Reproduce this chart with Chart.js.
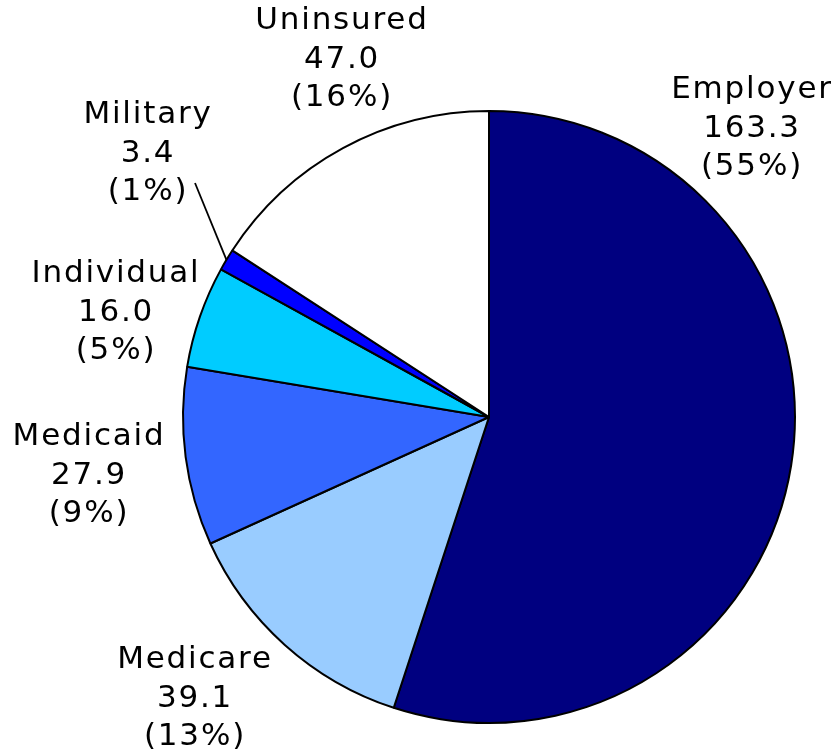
<!DOCTYPE html>
<html>
<head>
<meta charset="utf-8">
<script src="https://cdn.jsdelivr.net/npm/chart.js@4/dist/chart.umd.min.js"></script>
<style>
  html, body { margin: 0; padding: 0; background: #fff; }
  #wrap { width: 837px; height: 753px; }
</style>
</head>
<body>
<div id="wrap"><canvas id="pie" width="837" height="753"></canvas></div>
<script>
// coverage, millions of people
var categories = ["Employer", "Medicare", "Medicaid", "Individual", "Military", "Uninsured"];
var values = [163.3, 39.1, 27.9, 16.0, 3.4, 47.0];
var sliceColors = ["#000080", "#99CCFF", "#3366FF", "#00CCFF", "#0000FF", "#FFFFFF"];

// where each label block sits (centre x, first line y)
var labelSpots = [
    [752, 90],
    [195, 660],
    [89, 437],
    [116, 274],
    [148, 115],
    [342, 21]
];

var total = 0;
for (let i = 0; i < values.length; i++) {
    total += values[i];
}

var labelPlugin = {
    id: "sliceLabels",
    afterDatasetsDraw: function (chart) {
        var ctx = chart.ctx;
        var arcs = chart.getDatasetMeta(0).data;
        ctx.save();
        ctx.font = "31px 'DejaVu Sans'";
        ctx.letterSpacing = "1.8px";
        ctx.fillStyle = "#000";
        ctx.textAlign = "center";
        ctx.textBaseline = "middle";
        for (let i = 0; i < categories.length; i++) {
            let x = labelSpots[i][0];
            let y = labelSpots[i][1];
            let pct = Math.round(values[i] * 100 / total);
            ctx.fillText(categories[i], x, y);
            ctx.fillText(values[i].toFixed(1), x, y + 39);
            ctx.fillText("(" + pct + "%)", x, y + 77);
        }
        // leader line for the thin Military slice
        let m = categories.indexOf("Military");
        let arc = arcs[m];
        let mid = (arc.startAngle + arc.endAngle) / 2;
        let ex = arc.x + Math.cos(mid) * arc.outerRadius;
        let ey = arc.y + Math.sin(mid) * arc.outerRadius;
        ctx.letterSpacing = "0px";
        ctx.strokeStyle = "#000";
        ctx.lineWidth = 1.8;
        ctx.beginPath();
        ctx.moveTo(labelSpots[m][0] + 47, labelSpots[m][1] + 68);
        ctx.lineTo(ex, ey);
        ctx.stroke();
        ctx.restore();
    }
};

var chart = new Chart(document.getElementById("pie").getContext("2d"), {
    type: "pie",
    data: {
        labels: categories,
        datasets: [{
            data: values,
            backgroundColor: sliceColors,
            borderColor: "#000",
            borderWidth: 2,
            borderAlign: "center"
        }]
    },
    options: {
        responsive: false,
        animation: false,
        layout: { padding: { left: 182, right: 41, top: 110, bottom: 29 } },
        plugins: {
            legend: { display: false },
            tooltip: { enabled: false }
        }
    },
    plugins: [labelPlugin]
});
</script>
</body>
</html>
